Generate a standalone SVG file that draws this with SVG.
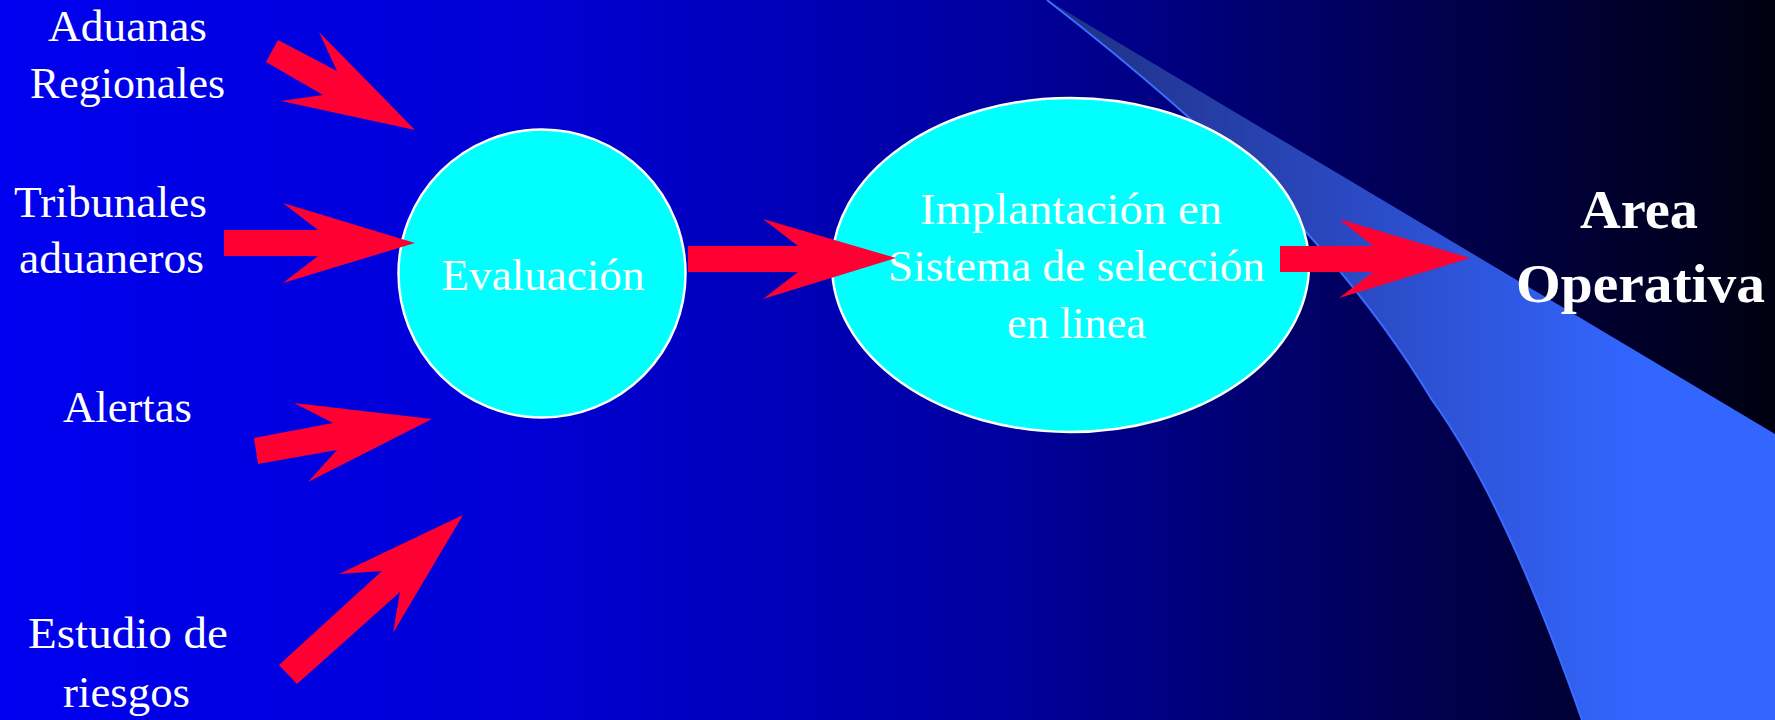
<svg xmlns="http://www.w3.org/2000/svg" width="1775" height="720" viewBox="0 0 1775 720">
<defs>
<linearGradient id="bg" x1="0" y1="0" x2="1775" y2="0" gradientUnits="userSpaceOnUse">
<stop offset="0" stop-color="#0000F0"/>
<stop offset="0.3" stop-color="#0000D4"/>
<stop offset="0.56" stop-color="#0000A0"/>
<stop offset="0.79" stop-color="#000055"/>
<stop offset="1" stop-color="#000010"/>
</linearGradient>
<linearGradient id="sw" x1="1040" y1="0" x2="1640" y2="0" gradientUnits="userSpaceOnUse">
<stop offset="0" stop-color="#1E2F80"/>
<stop offset="0.5" stop-color="#2A48C0"/>
<stop offset="1" stop-color="#3366FF"/>
</linearGradient>
<style>
.lbl{font-family:"Liberation Serif",serif;font-size:45px;fill:#FFFFFF;text-anchor:middle}
.bold{font-weight:bold;font-size:55px}
.node{fill:#00FFFF;stroke:#FFFFFF;stroke-width:2.5}
.arrow{fill:#FF0033}
</style>
</defs>
<rect x="0" y="0" width="1775" height="720" fill="url(#bg)"/>
<g id="swoosh">
<path d="M1047,0 L1775,434 L1775,720 L1582,720 C1540,600 1490,480 1432,400 C1390,330 1340,270 1307,233 C1240,160 1150,80 1047,0 Z" fill="url(#sw)"/>
<path d="M1047,0 C1150,80 1240,160 1307,233 C1340,270 1390,330 1432,400 C1490,480 1540,600 1582,720" fill="none" stroke="#3A6CFF" stroke-width="2"/>
</g>
<g id="label-aduanas">
<text class="lbl" x="127.5" y="41" textLength="159" lengthAdjust="spacingAndGlyphs">Aduanas</text>
<text class="lbl" x="127.5" y="98" textLength="195" lengthAdjust="spacingAndGlyphs">Regionales</text>
</g>
<g id="label-tribunales">
<text class="lbl" x="110.5" y="217" textLength="193" lengthAdjust="spacingAndGlyphs">Tribunales</text>
<text class="lbl" x="111.5" y="273" textLength="185" lengthAdjust="spacingAndGlyphs">aduaneros</text>
</g>
<g id="label-alertas">
<text class="lbl" x="127.5" y="422" textLength="129" lengthAdjust="spacingAndGlyphs">Alertas</text>
</g>
<g id="label-estudio">
<text class="lbl" x="128" y="648" textLength="200" lengthAdjust="spacingAndGlyphs">Estudio de</text>
<text class="lbl" x="126.5" y="707" textLength="127" lengthAdjust="spacingAndGlyphs">riesgos</text>
</g>
<g id="node-evaluacion">
<ellipse class="node" cx="542" cy="273.5" rx="143.5" ry="144"/>
<text class="lbl" x="543" y="290" textLength="203" lengthAdjust="spacingAndGlyphs">Evaluación</text>
</g>
<g id="node-implantacion">
<ellipse class="node" cx="1070.5" cy="265" rx="238.5" ry="167"/>
<text class="lbl" x="1071" y="224" textLength="302" lengthAdjust="spacingAndGlyphs">Implantación en</text>
<text class="lbl" x="1076.5" y="281" textLength="377" lengthAdjust="spacingAndGlyphs">Sistema de selección</text>
<text class="lbl" x="1076.5" y="338" textLength="139" lengthAdjust="spacingAndGlyphs">en linea</text>
</g>
<g id="node-area">
<text class="lbl bold" x="1639" y="228" textLength="118" lengthAdjust="spacingAndGlyphs">Area</text>
<text class="lbl bold" x="1640.5" y="302" textLength="249" lengthAdjust="spacingAndGlyphs">Operativa</text>
</g>
<g id="connectors">
<polygon class="arrow" points="278,40 337,71 319,32 415,130 281,101 323,95 266,62"/>
<polygon class="arrow" points="224,230 318,230 283,203 415,243 283,283 318,256 224,256"/>
<polygon class="arrow" points="254,438 333,423 294,403 432,419 308,482 337,450 258,464"/>
<polygon class="arrow" points="279,665 382,571 339,574 463,515 393,633 400,592 297,684"/>
<polygon class="arrow" points="688,246 798,246 763,219 896,258 763,299 798,272 688,272"/>
<polygon class="arrow" points="1280,246 1373,246 1339,219 1470,258 1339,298 1373,272 1280,272"/>
</g>
</svg>
